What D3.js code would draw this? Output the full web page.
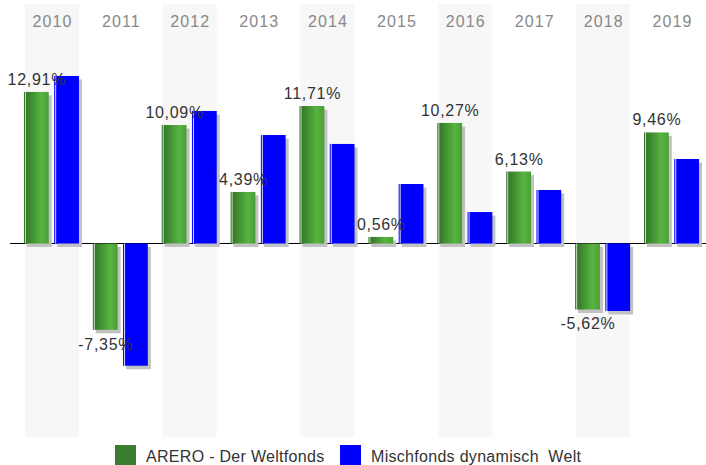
<!DOCTYPE html>
<html><head><meta charset="utf-8">
<script src="https://cdn.jsdelivr.net/npm/d3@7"></script>
<style>
html,body{margin:0;padding:0;background:#fff;}
svg{display:block;font-family:"Liberation Sans",Arial,sans-serif;}
</style></head>
<body>
<svg id="chart" width="706" height="465"></svg>
<script>
const years = ["2010","2011","2012","2013","2014","2015","2016","2017","2018","2019"];
const seriesNames = ["ARERO - Der Weltfonds", "Mischfonds dynamisch  Welt"];
const arero = [12.91, -7.35, 10.09, 4.39, 11.71, 0.56, 10.27, 6.13, -5.62, 9.46];
const misch = [14.27, -10.41, 11.29, 9.24, 8.48, 5.07, 2.68, 4.56, -5.75, 7.20];
const seriesColors = ["#3a7d2e", "#0000ff"];

const svg = d3.select("#chart");
const plotTop = 4, plotBottom = 437;

const x0 = d3.scaleBand().domain(years).range([17.5, 706.5]).paddingInner(0.216).paddingOuter(0.108);
const x1 = d3.scaleBand().domain([0,1]).range([-1, 54]).paddingInner(0.18);
const y = d3.scaleLinear().domain([-16.48, 20.4]).range([plotBottom, plotTop]);

const loc = d3.formatLocale({decimal: ",", thousands: ".", grouping: [3], currency: ["", "€"], minus: "-"});
const fmt = v => loc.format(".2f")(v) + "%";

const defs = svg.append("defs");
const g = defs.append("linearGradient").attr("id","gGreen").attr("x1","0").attr("x2","1").attr("y1","0").attr("y2","0");
g.append("stop").attr("offset","0%").attr("stop-color","#2f6f25");
g.append("stop").attr("offset","70%").attr("stop-color","#57b540");
g.append("stop").attr("offset","100%").attr("stop-color","#4a9d37");

svg.append("g").selectAll("rect").data(years.filter((d,i)=>i%2===0)).join("rect")
  .attr("x", d=>x0(d)).attr("y", plotTop).attr("width", x0.bandwidth()).attr("height", plotBottom-plotTop)
  .attr("fill","#f7f7f7");

svg.append("g").selectAll("text").data(years).join("text")
  .attr("x", d=>x0(d)+x0.bandwidth()/2+0.5).attr("y", 27)
  .attr("text-anchor","middle").attr("font-size",16).attr("letter-spacing","1.1px")
  .attr("fill","#888").text(d=>d);

svg.append("line").attr("x1",10).attr("x2",706).attr("y1",y(0)).attr("y2",y(0))
  .attr("stroke","#000").attr("stroke-width",1);

const data = [];
years.forEach((yr,i)=>{
  data.push({yr, s:0, v:arero[i]});
  data.push({yr, s:1, v:misch[i]});
});
const bx = d => x0(d.yr) + x1(d.s);
const by = d => Math.min(y(d.v), y(0));
const bh = d => Math.abs(y(d.v) - y(0));

svg.append("g").selectAll("rect").data(data).join("rect")
  .attr("x", d=>bx(d)+3).attr("y", d=>by(d)+3.5).attr("width", x1.bandwidth()).attr("height", d=>bh(d))
  .attr("fill","#c2c2c2");
svg.append("g").selectAll("rect").data(data).join("rect")
  .attr("x", bx).attr("y", by).attr("width", x1.bandwidth()).attr("height", bh)
  .attr("fill", d=> d.s===0 ? "url(#gGreen)" : seriesColors[1]);
svg.append("g").selectAll("rect").data(data).join("rect")
  .attr("x", d=>bx(d)+1).attr("y", by).attr("width", 1).attr("height", bh)
  .attr("fill", "#fff").attr("opacity", d=> d.s===0 ? 0.75 : 0.85);

svg.append("g").selectAll("text").data(data.filter(d=>d.s===0)).join("text")
  .attr("x", d=>bx(d)+x1.bandwidth()/2+0.5)
  .attr("y", d=> d.v>=0 ? y(d.v)-7 : y(d.v)+20)
  .attr("text-anchor","middle").attr("font-size",16).attr("letter-spacing","0.7px")
  .attr("fill","#333").text(d=>fmt(d.v));

const leg = svg.append("g");
const legX = [115, 340];
seriesNames.forEach((n,i)=>{
  leg.append("rect").attr("x",legX[i]).attr("y",445).attr("width",21).attr("height",21).attr("fill",seriesColors[i]);
  leg.append("text").attr("x",legX[i]+31).attr("y",461.5).attr("font-size",16).attr("letter-spacing","0.3px")
    .attr("fill","#333").attr("xml:space","preserve").style("white-space","pre").text(n);
});
</script>
</body></html>
